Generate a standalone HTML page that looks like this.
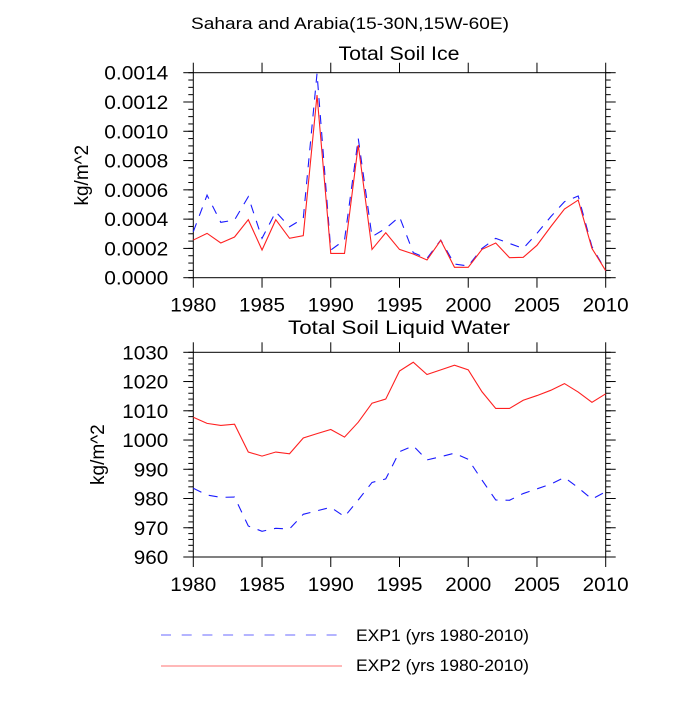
<!DOCTYPE html>
<html><head><meta charset="utf-8"><style>
body{margin:0;background:#fff;}
svg text{font-family:"Liberation Sans",sans-serif;fill:#000;}
</style></head><body>
<svg id="chart" width="700" height="700" viewBox="0 0 700 700" xmlns="http://www.w3.org/2000/svg">
<text x="350" y="29" font-size="17" text-anchor="middle" textLength="318" lengthAdjust="spacingAndGlyphs">Sahara and Arabia(15-30N,15W-60E)</text>
<text x="399" y="60" font-size="19" text-anchor="middle" textLength="121" lengthAdjust="spacingAndGlyphs">Total Soil Ice</text>
<text x="399" y="334" font-size="19" text-anchor="middle" textLength="222" lengthAdjust="spacingAndGlyphs">Total Soil Liquid Water</text>
<g id="top"></g>
<g id="bot"></g>
<g>
<line x1="161" y1="635" x2="340" y2="635" stroke="#6a6aff" stroke-width="1" stroke-dasharray="10,10.7"/>
<text x="356" y="641" font-size="16.5" textLength="173" lengthAdjust="spacingAndGlyphs">EXP1 (yrs 1980-2010)</text>
<line x1="161" y1="666" x2="342" y2="666" stroke="#ff7070" stroke-width="1"/>
<text x="356" y="671" font-size="16.5" textLength="173" lengthAdjust="spacingAndGlyphs">EXP2 (yrs 1980-2010)</text>
</g>
</svg>
<script>
const years = [1980,1981,1982,1983,1984,1985,1986,1987,1988,1989,1990,1991,1992,1993,1994,1995,1996,1997,1998,1999,2000,2001,2002,2003,2004,2005,2006,2007,2008,2009,2010];
const iceExp1 = [0.000314,0.000564,0.000378,0.000394,0.000553,0.000269,0.00045,0.000348,0.000405,0.001395,0.000189,0.000257,0.000951,0.00028,0.000337,0.000416,0.000171,0.000132,0.000257,0.000093,0.00008,0.0002,0.000269,0.000234,0.0002,0.000303,0.000416,0.000519,0.000558,0.000212,0.000048];
const iceExp2 = [0.000257,0.000303,0.000237,0.000278,0.000396,0.000189,0.000396,0.000269,0.000287,0.001247,0.000166,0.000166,0.000906,0.000193,0.000307,0.000193,0.000162,0.000121,0.000255,0.000071,0.000071,0.000193,0.000237,0.000137,0.000139,0.000221,0.000348,0.000469,0.00053,0.0002,0.000048];
const waterExp1 = [983.5,981.2,980.4,980.5,970.6,968.8,969.8,969.6,974.6,975.8,977.0,973.8,979.5,985.5,986.7,996.0,998.0,993.2,994.3,995.5,993.4,986.3,979.5,979.4,981.7,983.3,984.9,987.2,983.7,979.8,982.3];
const waterExp2 = [1007.8,1005.7,1005.0,1005.4,995.9,994.5,995.9,995.3,1000.7,1002.2,1003.6,1001.0,1006.1,1012.6,1014.0,1023.6,1026.6,1022.4,1024.0,1025.6,1024.0,1016.5,1010.8,1010.8,1013.6,1015.2,1017.0,1019.3,1016.4,1012.9,1015.8];
const xTicks = [1980,1985,1990,1995,2000,2005,2010];
const iceTicks = [0,0.0002,0.0004,0.0006,0.0008,0.001,0.0012,0.0014];
const iceTickLabels = ["0.0000","0.0002","0.0004","0.0006","0.0008","0.0010","0.0012","0.0014"];
const waterTicks = [960,970,980,990,1000,1010,1020,1030];
const waterTickLabels = ["960","970","980","990","1000","1010","1020","1030"];

const NS="http://www.w3.org/2000/svg";
function mk(parent,tag,attrs){const e=document.createElementNS(NS,tag);for(const k in attrs)e.setAttribute(k,attrs[k]);parent.appendChild(e);return e;}

function panel(g,top,bottom,ymin,ymax,minorStep,ticks,labels,s1,s2,prefix){
  const L=193.3,R=605.7;
  const xs=v=>L+(v-1980)/(30)*(R-L);
  const ys=v=>bottom-(v-ymin)/(ymax-ymin)*(bottom-top);
  const fr=mk(g,'rect',{x:L,y:top,width:R-L,height:bottom-top,fill:'none',stroke:'#000','stroke-width':1});
  
  
  for(let v=ymin;v<=ymax+1e-12;v+=minorStep){
    const y=ys(v);
    const a=mk(g,'line',{x1:L-5,x2:L,y1:y,y2:y,stroke:'#000'});
    
    
    const b=mk(g,'line',{x1:R,x2:R+5,y1:y,y2:y,stroke:'#000'});
    
    
  }
  ticks.forEach((v,i)=>{
    const y=ys(v);
    const a=mk(g,'line',{x1:L-10,x2:L,y1:y,y2:y,stroke:'#000'});
    
    
    const b=mk(g,'line',{x1:R,x2:R+10,y1:y,y2:y,stroke:'#000'});
    
    
    const lab=labels[i];
    const t=mk(g,'text',{x:L-25,y:y+7,'font-size':19.5,'text-anchor':'end',textLength:lab.length===6?64:(lab.length*11.5),lengthAdjust:'spacingAndGlyphs'});
    t.textContent=lab;
    
    
  });
  xTicks.forEach(v=>{
    const x=xs(v);
    const a=mk(g,'line',{x1:x,x2:x,y1:top-10,y2:top,stroke:'#000'});
    
    
    const b=mk(g,'line',{x1:x,x2:x,y1:bottom,y2:bottom+10,stroke:'#000'});
    
    
    const t=mk(g,'text',{x:x,y:bottom+34,'font-size':19.5,'text-anchor':'middle',textLength:46,lengthAdjust:'spacingAndGlyphs'});
    t.textContent=String(v);
    
    
  });
  const yt=mk(g,'text',{x:0,y:0,'font-size':19,'text-anchor':'middle',transform:`translate(${prefix==='ice'?88:104},${(top+bottom)/2}) rotate(-90)`});
  yt.textContent='kg/m^2';
  
  
  const p1=mk(g,'polyline',{points:years.map((y,i)=>xs(y)+','+ys(s1[i])).join(' '),fill:'none',stroke:'#1a1aff','stroke-width':1.1,'stroke-dasharray':'9,8'});
  
  
  const p2=mk(g,'polyline',{points:years.map((y,i)=>xs(y)+','+ys(s2[i])).join(' '),fill:'none',stroke:'#ff2020','stroke-width':1.1});
  
  
}
panel(document.getElementById('top'),72.7,277.7,0,0.0014,0.00005,iceTicks,iceTickLabels,iceExp1,iceExp2,'ice');
panel(document.getElementById('bot'),352.3,557,960,1030,2,waterTicks,waterTickLabels,waterExp1,waterExp2,'water');
</script>
</body></html>
